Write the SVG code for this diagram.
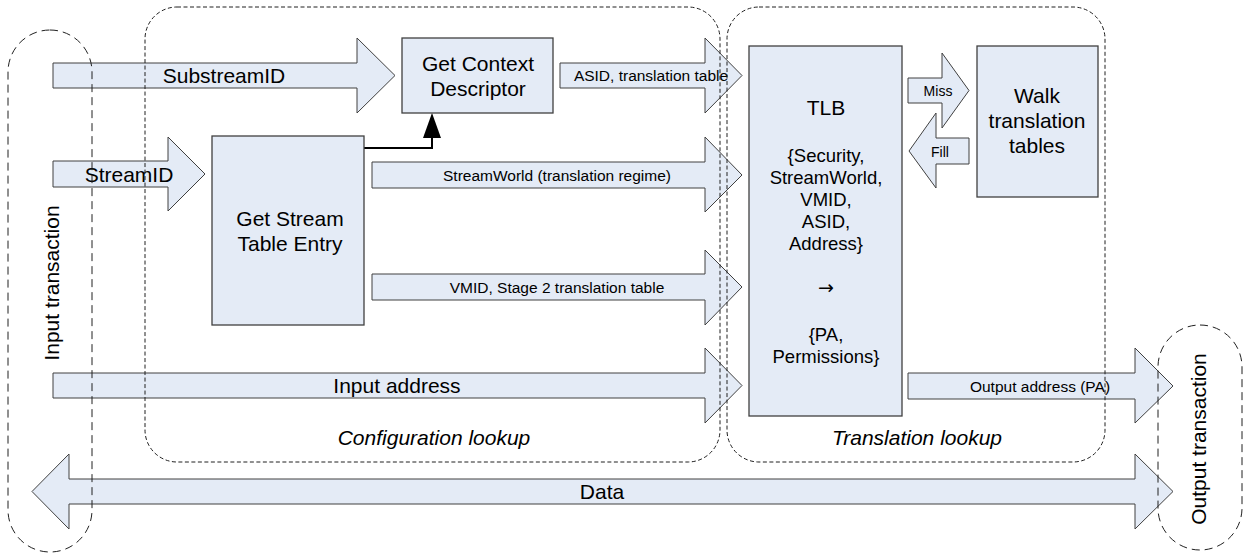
<svg xmlns="http://www.w3.org/2000/svg" width="1246" height="553" viewBox="0 0 1246 553">
<defs>
<style>
.box{fill:#E4EBF6;stroke:#404040;stroke-width:1.3}
.arr{fill:#E4EBF6;stroke:#404040;stroke-width:1}
.grp{fill:none;stroke:#202020;stroke-width:1;stroke-dasharray:4 2.5}
.pill{fill:none;stroke:#202020;stroke-width:1;stroke-dasharray:8 5}
text{font-family:"Liberation Sans",Arial,sans-serif;fill:#000;text-anchor:middle}
.big{font-size:21px}
.med{font-size:18.5px}
.sm{font-size:15.5px}
.xs{font-size:14px}
.it{font-style:italic;font-size:21px}
.sym{font-family:"DejaVu Sans",sans-serif;font-size:19px}
</style>
<marker id="tri" markerWidth="18" markerHeight="25" refX="9" refY="25" orient="0" markerUnits="userSpaceOnUse">
<polygon points="0,25 9,0 18,25" fill="#000"/>
</marker>
</defs>

<g id="connectors">
<g id="arrow-substreamid"><polygon class="arr" points="53,63 357,63 357,38 395,75.5 357,113 357,88 53,88"/><text class="big" x="224" y="83">SubstreamID</text></g>
<g id="arrow-streamid"><polygon class="arr" points="53,161 168,161 168,137 205,174 168,211 168,187 53,187"/><text class="big" x="129" y="182">StreamID</text></g>
<g id="arrow-asid"><polygon class="arr" points="560,63 705,63 705,38 742,75.5 705,113 705,88 560,88"/><text class="sm" x="651" y="81">ASID, translation table</text></g>
<g id="arrow-streamworld"><polygon class="arr" points="372,162 705,162 705,137 742,175 705,212 705,188 372,188"/><text class="sm" x="557" y="180.5">StreamWorld (translation regime)</text></g>
<g id="arrow-vmid"><polygon class="arr" points="372,274 705,274 705,250 742,287 705,325 705,300 372,300"/><text class="sm" x="557" y="292.5">VMID, Stage 2 translation table</text></g>
<g id="arrow-input-address"><polygon class="arr" points="53,373 705,373 705,348 742,385.5 705,423 705,398 53,398"/><text class="big" x="397" y="393">Input address</text></g>
<g id="arrow-output-address"><polygon class="arr" points="908,373 1135,373 1135,348 1173,386 1135,423 1135,399 908,399"/><text class="sm" x="1040" y="391.5">Output address (PA)</text></g>
<g id="arrow-data"><polygon class="arr" points="32,491.5 69,454 69,479 1135,479 1135,454 1173,491.5 1135,529 1135,504 69,504 69,529"/><text class="big" x="602" y="499">Data</text></g>
<g id="arrow-miss"><polygon class="arr" points="908,78 942,78 942,53 969,90.5 942,128 942,103 908,103"/><text class="xs" x="938" y="96">Miss</text></g>
<g id="arrow-fill"><polygon class="arr" points="969,138 936,138 936,113 909,151 936,188 936,164 969,164"/><text class="xs" x="940" y="156.5">Fill</text></g>
<path id="link-ste-cd" d="M364,148 H432 V138" fill="none" stroke="#000" stroke-width="2" marker-end="url(#tri)"/>
</g>

<g id="get-context-descriptor"><rect class="box" x="402" y="38" width="151" height="75"/><text class="big" x="478" y="71">Get Context</text><text class="big" x="478" y="96">Descriptor</text></g>
<g id="get-stream-table-entry"><rect class="box" x="212" y="136" width="152" height="189"/><text class="big" x="290" y="226">Get Stream</text><text class="big" x="290" y="251">Table Entry</text></g>
<g id="tlb"><rect class="box" x="749" y="46" width="153" height="370"/>
<text class="big" x="826" y="115">TLB</text>
<text class="med" x="826" y="162">{Security,</text>
<text class="med" x="826" y="184">StreamWorld,</text>
<text class="med" x="826" y="206">VMID,</text>
<text class="med" x="826" y="228">ASID,</text>
<text class="med" x="826" y="250">Address}</text>
<text class="sym" x="826" y="294">→</text>
<text class="med" x="826" y="341">{PA,</text>
<text class="med" x="826" y="363">Permissions}</text>
</g>
<g id="walk-translation-tables"><rect class="box" x="977" y="46" width="121" height="151"/><text class="big" x="1037" y="103">Walk</text><text class="big" x="1037" y="128">translation</text><text class="big" x="1037" y="153">tables</text></g>

<g id="configuration-lookup"><rect class="grp" x="145" y="7" width="575" height="455" rx="32"/><text class="it" x="434" y="445">Configuration lookup</text></g>
<g id="translation-lookup"><rect class="grp" x="727" y="7" width="378" height="455" rx="32"/><text class="it" x="917" y="445">Translation lookup</text></g>
<g id="input-transaction"><rect class="pill" x="8" y="30" width="84" height="522" rx="42"/><text class="big" transform="translate(59,283) rotate(-90)">Input transaction</text></g>
<g id="output-transaction"><rect class="pill" x="1158" y="325" width="84" height="225" rx="42"/><text class="big" transform="translate(1206,439) rotate(-90)">Output transaction</text></g>
</svg>
